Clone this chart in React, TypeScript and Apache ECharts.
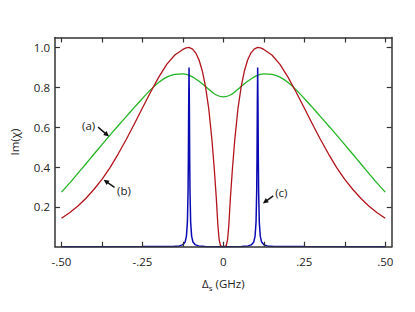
import React, { useEffect, useRef } from "react";
import * as echarts from "echarts";

// (a) green curve
const greenX = [-0.5, -0.475, -0.45, -0.425, -0.4, -0.375, -0.35, -0.325, -0.3, -0.275, -0.25, -0.225, -0.2, -0.175, -0.15, -0.125, -0.1, -0.075, -0.05, -0.025, 0,
  0.025, 0.05, 0.075, 0.1, 0.125, 0.15, 0.175, 0.2, 0.225, 0.25, 0.275, 0.3, 0.325, 0.35, 0.375, 0.4, 0.425, 0.45, 0.475, 0.5];
const greenY = [0.274, 0.319, 0.367, 0.415, 0.464, 0.512, 0.56, 0.607, 0.653, 0.699, 0.744, 0.787, 0.824, 0.851, 0.865, 0.867, 0.856, 0.83, 0.797, 0.764, 0.752,
  0.764, 0.797, 0.83, 0.856, 0.867, 0.865, 0.851, 0.824, 0.787, 0.744, 0.699, 0.653, 0.607, 0.56, 0.512, 0.464, 0.415, 0.367, 0.319, 0.274];

// (b) red curve
const redX = [-0.5, -0.475, -0.45, -0.425, -0.4, -0.375, -0.35, -0.325, -0.3, -0.275, -0.25, -0.225, -0.2, -0.175, -0.15, -0.125, -0.115, -0.106, -0.095, -0.085, -0.075, -0.065, -0.055, -0.045, -0.035, -0.028, -0.022, -0.017, -0.013, -0.009, -0.005, 0,
  0.005, 0.009, 0.013, 0.017, 0.022, 0.028, 0.035, 0.045, 0.055, 0.065, 0.075, 0.085, 0.095, 0.106, 0.115, 0.125, 0.15, 0.175, 0.2, 0.225, 0.25, 0.275, 0.3, 0.325, 0.35, 0.375, 0.4, 0.425, 0.45, 0.475, 0.5];
const redY = [0.143, 0.17, 0.203, 0.242, 0.287, 0.338, 0.397, 0.465, 0.538, 0.616, 0.696, 0.775, 0.85, 0.915, 0.962, 0.99, 0.998, 1.0, 0.992, 0.972, 0.937, 0.882, 0.802, 0.692, 0.532, 0.39, 0.25, 0.11, 0.035, 0.006, 0.001, 0,
  0.001, 0.006, 0.035, 0.11, 0.25, 0.39, 0.532, 0.692, 0.802, 0.882, 0.937, 0.972, 0.992, 1.0, 0.998, 0.99, 0.962, 0.915, 0.85, 0.775, 0.696, 0.616, 0.538, 0.465, 0.397, 0.338, 0.287, 0.242, 0.203, 0.17, 0.143];

// (c) blue curve
const blueX = [-0.5, -0.25, -0.18, -0.156, -0.136, -0.126, -0.118, -0.114, -0.111, -0.109, -0.108, -0.107, -0.106, -0.105, -0.104, -0.103, -0.101, -0.098, -0.094, -0.086, -0.076, -0.056, 0,
  0.056, 0.076, 0.086, 0.094, 0.098, 0.101, 0.103, 0.104, 0.105, 0.106, 0.107, 0.108, 0.109, 0.111, 0.114, 0.118, 0.126, 0.136, 0.156, 0.18, 0.25, 0.5];
const blueY = [0, 0.0005, 0.0012, 0.0014, 0.004, 0.009, 0.024, 0.053, 0.124, 0.277, 0.45, 0.72, 0.9, 0.72, 0.45, 0.277, 0.124, 0.053, 0.024, 0.009, 0.004, 0.0014, 0,
  0.0014, 0.004, 0.009, 0.024, 0.053, 0.124, 0.277, 0.45, 0.72, 0.9, 0.72, 0.45, 0.277, 0.124, 0.053, 0.024, 0.009, 0.004, 0.0014, 0.0012, 0.0005, 0];

const xTickValues = [-0.5, -0.375, -0.25, -0.125, 0, 0.125, 0.25, 0.375, 0.5];
const xLabelValues = [-0.5, -0.25, 0, 0.25, 0.5];
const yTickValues = [0.2, 0.4, 0.6, 0.8, 1.0];

// annotations: label, label position, arrow tail, arrow head (data coords)
const annLabels = ["(a)", "(b)", "(c)"];
const annText = [[-0.416, 0.607], [-0.307, 0.281], [0.179, 0.271]];
const annTail = [[-0.387, 0.6], [-0.336, 0.298], [0.154, 0.255]];
const annHead = [[-0.353, 0.553], [-0.37, 0.336], [0.122, 0.217]];

const FONT = "'Open Sans', 'Noto Sans', sans-serif";
const AXIS_COLOR = "#333";

function zip(xs: number[], ys: number[]) {
  return xs.map((x, i) => [x, ys[i]]);
}

function fmtX(v: number) {
  if (Math.abs(v) < 1e-9) return "0";
  return (v < 0 ? "-" : "") + "." + Math.abs(v).toFixed(2).slice(2);
}

export default function App() {
  const ref = useRef<HTMLDivElement>(null);
  useEffect(() => {
    if (!ref.current) return;
    const chart = echarts.init(ref.current, undefined, { renderer: "svg" });
    const lineStyle = { color: AXIS_COLOR, width: 1.5 };
    const tickStyle = { color: AXIS_COLOR, width: 1.2 };
    chart.setOption({
      animation: false,
      backgroundColor: "#fff",
      grid: { left: 54.3, top: 37.5, right: 23.3, bottom: 65.3 },
      xAxis: [
        {
          type: "value",
          min: -0.52,
          max: 0.52,
          position: "bottom",
          axisLine: { show: true, onZero: false, lineStyle },
          axisTick: { show: true, inside: true, length: 5, customValues: xTickValues, lineStyle: tickStyle },
          axisLabel: {
            customValues: xLabelValues,
            formatter: (v: number) => fmtX(v),
            margin: 9,
            fontSize: 11.5,
            fontFamily: FONT,
            color: "#222",
          },
          splitLine: { show: false },
          name: "{d|Δ}{s|s}{d| (GHz)}",
          nameLocation: "middle",
          nameGap: 29,
          nameTextStyle: {
            rich: {
              d: { fontSize: 11.5, fontFamily: FONT, color: "#222", lineHeight: 16, verticalAlign: "middle" },
              s: { fontSize: 8, fontFamily: FONT, color: "#222", lineHeight: 16, verticalAlign: "bottom" },
            },
          },
          z: 5,
        },
        {
          type: "value",
          min: -0.52,
          max: 0.52,
          position: "top",
          axisLine: { show: true, onZero: false, lineStyle },
          axisTick: { show: true, inside: true, length: 5, customValues: xTickValues, lineStyle: tickStyle },
          axisLabel: { show: false },
          splitLine: { show: false },
          z: 5,
        },
      ],
      yAxis: [
        {
          type: "value",
          min: 0,
          max: 1.05,
          position: "left",
          axisLine: { show: true, onZero: false, lineStyle },
          axisTick: { show: true, inside: true, length: 5, customValues: yTickValues, lineStyle: tickStyle },
          axisLabel: {
            customValues: yTickValues,
            formatter: (v: number) => v.toFixed(1),
            margin: 5,
            fontSize: 11.5,
            fontFamily: FONT,
            color: "#222",
          },
          splitLine: { show: false },
          name: "Im(χ)",
          nameLocation: "middle",
          nameGap: 35,
          nameRotate: 90,
          nameTextStyle: { fontSize: 11.5, fontFamily: FONT, color: "#222" },
          z: 5,
        },
        {
          type: "value",
          min: 0,
          max: 1.05,
          position: "right",
          axisLine: { show: true, onZero: false, lineStyle },
          axisTick: { show: true, inside: true, length: 5, customValues: yTickValues, lineStyle: tickStyle },
          axisLabel: { show: false },
          splitLine: { show: false },
          z: 5,
        },
      ],
      series: [
        {
          name: "(a)",
          type: "line",
          xAxisIndex: 0,
          yAxisIndex: 0,
          data: zip(greenX, greenY),
          smooth: 0.3,
          showSymbol: false,
          lineStyle: { color: "#22b422", width: 1.3 },
          z: 2,
        },
        {
          name: "(b)",
          type: "line",
          xAxisIndex: 0,
          yAxisIndex: 0,
          data: zip(redX, redY),
          showSymbol: false,
          lineStyle: { color: "#b3141c", width: 1.3, join: "round" },
          z: 3,
        },
        {
          name: "(c)",
          type: "line",
          xAxisIndex: 0,
          yAxisIndex: 0,
          data: zip(blueX, blueY),
          showSymbol: false,
          lineStyle: { color: "#0a0ab4", width: 1.5 },
          z: 4,
        },
      ],
    });

    const graphics: any[] = [];
    annLabels.forEach((lab, i) => {
      const tp = chart.convertToPixel({ seriesIndex: 0 }, annText[i]) as number[];
      const t = chart.convertToPixel({ seriesIndex: 0 }, annTail[i]) as number[];
      const h = chart.convertToPixel({ seriesIndex: 0 }, annHead[i]) as number[];
      graphics.push({
        type: "text",
        x: tp[0],
        y: tp[1],
        style: { text: lab, fontSize: 11.5, fontFamily: FONT, fill: "#222", align: "center", verticalAlign: "middle" },
        z: 10,
      });
      const dx = h[0] - t[0];
      const dy = h[1] - t[1];
      const len = Math.sqrt(dx * dx + dy * dy);
      const ux = dx / len;
      const uy = dy / len;
      const aL = 5.5;
      const aW = 2.6;
      const bx = h[0] - ux * aL;
      const by = h[1] - uy * aL;
      graphics.push({
        type: "line",
        shape: { x1: t[0], y1: t[1], x2: bx + ux * 1, y2: by + uy * 1 },
        style: { stroke: "#111", lineWidth: 1.4 },
        z: 10,
      });
      graphics.push({
        type: "polygon",
        shape: {
          points: [
            [h[0], h[1]],
            [bx - uy * aW, by + ux * aW],
            [bx + uy * aW, by - ux * aW],
          ],
        },
        style: { fill: "#111" },
        z: 10,
      });
    });
    chart.setOption({ graphic: graphics });

    return () => chart.dispose();
  }, []);
  return <div ref={ref} style={{ position: "absolute", left: 0, top: 0, width: 415, height: 312 }} />;
}
